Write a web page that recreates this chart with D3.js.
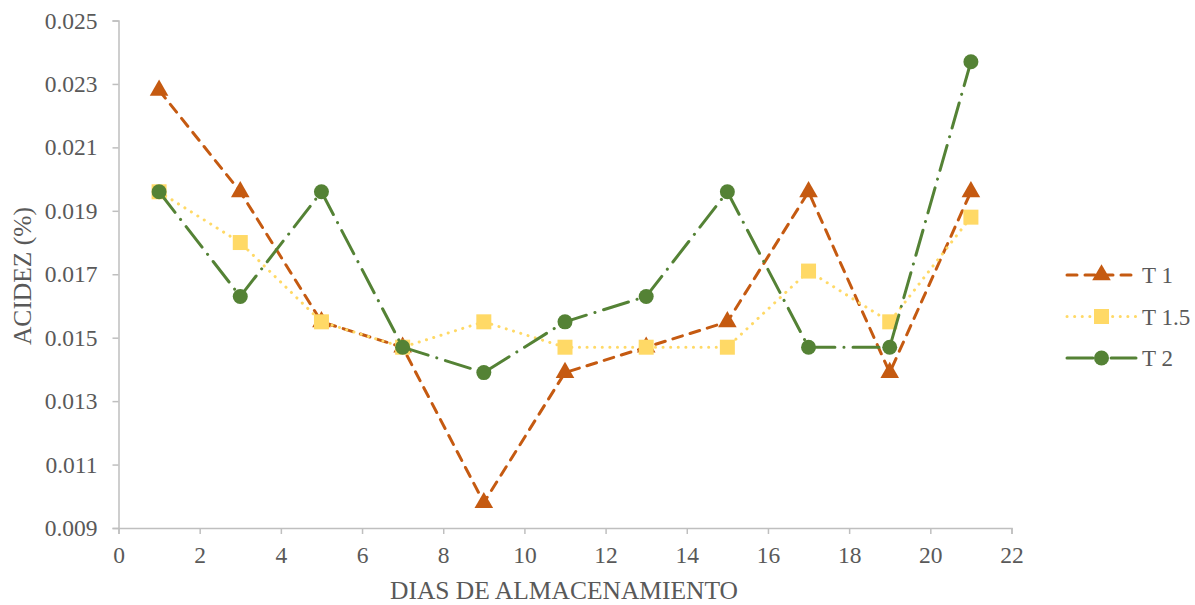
<!DOCTYPE html>
<html>
<head>
<meta charset="utf-8">
<script src="https://cdn.jsdelivr.net/npm/d3@7"></script>
<style>
  html, body { margin: 0; padding: 0; background: #fff; }
  svg { display: block; }
</style>
</head>
<body>
<svg id="chart" width="1195" height="605" font-family="Liberation Serif, Times New Roman, serif"></svg>
<script>
// Storage days and acidity per treatment
const days = [1, 3, 5, 7, 9, 11, 13, 15, 17, 19, 21];
const t1   = [0.0228, 0.0196, 0.0155, 0.0147, 0.0098, 0.0139, 0.0147, 0.0155, 0.0196, 0.0139, 0.0196];
const t15  = [0.0196, 0.0180, 0.0155, 0.0147, 0.0155, 0.0147, 0.0147, 0.0147, 0.0171, 0.0155, 0.0188];
const t2   = [0.0196, 0.0163, 0.0196, 0.0147, 0.0139, 0.0155, 0.0163, 0.0196, 0.0147, 0.0147, 0.0237];
const xTicks = [0, 2, 4, 6, 8, 10, 12, 14, 16, 18, 20, 22];
const yTicks = [0.009, 0.011, 0.013, 0.015, 0.017, 0.019, 0.021, 0.023, 0.025];
const seriesNames = ["T 1", "T 1.5", "T 2"];

const FONT = "Liberation Serif";
const TEXT_COLOR = "#595959";
const TICK_SIZE = 23.5;

const series = [
  { name: seriesNames[0], values: t1,  color: "#C55A11", dash: "10 8", cap: "round", width: 3, marker: "triangle" },
  { name: seriesNames[1], values: t15, color: "#FFD966", dash: "0.1 7.5", cap: "round", width: 3, marker: "square" },
  { name: seriesNames[2], values: t2,  color: "#548235", dash: "26 9 0.1 9", cap: "round", width: 3, marker: "circle" }
];

const svg = d3.select("#chart");
const x = d3.scaleLinear().domain([0, 22]).range([118.5, 1011.5]);
const y = d3.scaleLinear().domain([0.009, 0.025]).range([528, 20.5]);
const axisColor = "#BFBFBF";

function styleAxis(g) {
  g.attr("font-family", FONT).attr("font-size", TICK_SIZE);
  g.select(".domain").attr("stroke", axisColor).attr("stroke-width", 1.5);
  g.selectAll(".tick line").attr("stroke", axisColor).attr("stroke-width", 1.5);
  g.selectAll(".tick text").attr("fill", TEXT_COLOR).attr("font-family", FONT).attr("font-size", TICK_SIZE);
}

// Y axis
svg.append("g").attr("transform", `translate(${x(0)},0)`)
  .call(d3.axisLeft(y).tickValues(yTicks).tickFormat(d3.format(".3f")).tickSize(6).tickPadding(15))
  .call(styleAxis);

// X axis
svg.append("g").attr("transform", `translate(0,${y(0.009)})`)
  .call(d3.axisBottom(x).tickValues(xTicks).tickFormat(d3.format("d")).tickSize(6).tickPadding(12))
  .call(styleAxis);

// Axis titles
svg.append("text").attr("x", 564).attr("y", 599).attr("text-anchor", "middle")
  .attr("font-family", FONT).attr("fill", TEXT_COLOR)
  .attr("font-size", 25.5).text("DIAS DE ALMACENAMIENTO");
svg.append("text").attr("transform", "translate(31,276) rotate(-90)").attr("text-anchor", "middle")
  .attr("font-family", FONT).attr("fill", TEXT_COLOR)
  .attr("font-size", 25.5).text("ACIDEZ (%)");

const line = d3.line().x(d => x(d[0])).y(d => y(d[1]));

function drawMarker(g, type, cx, cy, color) {
  if (type === "triangle") {
    g.append("path").attr("d", d3.symbol(d3.symbolTriangle, 150)())
      .attr("transform", `translate(${cx},${cy})`).attr("fill", color);
  } else if (type === "square") {
    g.append("rect").attr("x", cx - 7.5).attr("y", cy - 7.5).attr("width", 15).attr("height", 15)
      .attr("fill", color);
  } else {
    g.append("circle").attr("cx", cx).attr("cy", cy).attr("r", 7.5).attr("fill", color);
  }
}

// Lines and markers
series.forEach(s => {
  const pts = days.map((d, i) => [d, s.values[i]]);
  const g = svg.append("g");
  g.append("path").datum(pts).attr("d", line)
    .attr("fill", "none").attr("stroke", s.color).attr("stroke-width", s.width)
    .attr("stroke-dasharray", s.dash).attr("stroke-linecap", s.cap).attr("stroke-linejoin", "round");
  pts.forEach(p => drawMarker(g, s.marker, x(p[0]), y(p[1]), s.color));
});

// Legend
const legendY = [275, 316.5, 358];
series.forEach((s, i) => {
  const g = svg.append("g");
  const ly = legendY[i];
  g.append("line").attr("x1", 1067).attr("x2", 1136).attr("y1", ly).attr("y2", ly)
    .attr("stroke", s.color).attr("stroke-width", s.width)
    .attr("stroke-dasharray", s.dash).attr("stroke-linecap", s.cap);
  drawMarker(g, s.marker, 1101.5, ly, s.color);
  g.append("text").attr("x", 1142).attr("y", ly + 8).attr("font-size", 23)
    .attr("font-family", FONT).attr("fill", TEXT_COLOR).text(s.name);
});
</script>
</body>
</html>
